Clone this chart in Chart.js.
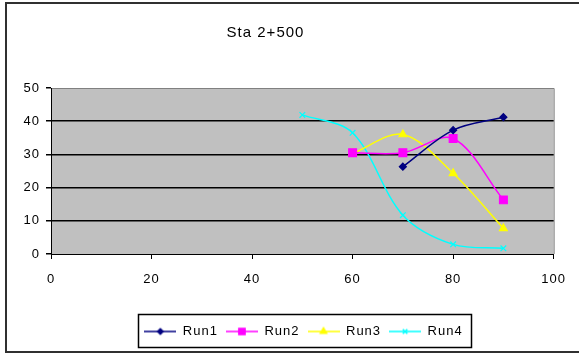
<!DOCTYPE html>
<html>
<head>
<meta charset="utf-8">
<script src="https://cdn.jsdelivr.net/npm/chart.js@4.4.1/dist/chart.umd.min.js"></script>
<style>
  html, body { margin: 0; padding: 0; background: #fff; }
  #wrap { width: 579px; height: 354px; position: relative; }
</style>
</head>
<body>
<div id="wrap"><canvas id="c" width="579" height="354"></canvas></div>
<script>
// Series data (x = position, y = value)
const seriesNames = ['Run1', 'Run2', 'Run3', 'Run4'];
const run1X = [70, 80, 90];
const run1Y = [26.3, 37.3, 41.2];
const run2X = [60, 70, 80, 90];
const run2Y = [30.5, 30.5, 34.8, 16.3];
const run3X = [60, 70, 80, 90];
const run3Y = [30.3, 36.0, 24.3, 7.7];
const run4X = [50, 60, 70, 80, 90];
const run4Y = [41.9, 36.5, 11.7, 2.9, 1.7];
const xTicks = [0, 20, 40, 60, 80, 100];
const yTicks = [0, 10, 20, 30, 40, 50];
const chartTitle = 'Sta 2+500';

const FONT = '"Liberation Sans", Arial, sans-serif';
const LETTER_SPACING = '1px';

const styles = [
  { color: '#000080', marker: 'rectRot', radius: 3.5 },
  { color: '#ff00ff', marker: 'rect', radius: 5.5 },
  { color: '#ffff00', marker: 'triangle', radius: 4.5 },
  { color: '#00ffff', marker: 'crossRot', radius: 4 }
];

function toPoints(xs, ys) { return xs.map((x, i) => ({ x: x, y: ys[i] })); }
const seriesPoints = [toPoints(run1X, run1Y), toPoints(run2X, run2Y), toPoints(run3X, run3Y), toPoints(run4X, run4Y)];

// Legend swatch: a short line with the series marker in its middle
function legendSwatch(st) {
  const w = 32, h = 12;
  const cv = document.createElement('canvas');
  cv.width = w; cv.height = h;
  const g = cv.getContext('2d');
  g.strokeStyle = st.color; g.lineWidth = 1.5;
  g.beginPath(); g.moveTo(0, h / 2); g.lineTo(w, h / 2); g.stroke();
  g.fillStyle = st.color;
  Chart.helpers.drawPoint(g, { pointStyle: st.marker, radius: st.radius * 0.8, borderWidth: 1 }, w / 2, h / 2);
  return cv;
}

const datasets = seriesNames.map((name, i) => ({
  label: name,
  data: seriesPoints[i],
  showLine: true,
  borderColor: styles[i].color,
  backgroundColor: styles[i].color,
  borderWidth: 1.5,
  tension: 0.33,
  pointStyle: styles[i].marker,
  pointRadius: styles[i].radius,
  pointBorderColor: styles[i].color,
  pointBackgroundColor: styles[i].color,
  pointBorderWidth: 1.2
}));

const frame = {
  id: 'frame',
  beforeUpdate(chart) { chart.ctx.letterSpacing = LETTER_SPACING; },
  afterUpdate(chart) {
    // nudge the title and the legend row horizontally
    if (chart.titleBlock) { chart.titleBlock.left -= 13; chart.titleBlock.right -= 13; }
    const lg = chart.legend;
    if (lg) {
      lg.left += 25; lg.right += 25;
      (lg.legendHitBoxes || []).forEach(b => { b.left += 25; });
    }
  },
  beforeDraw(chart) {
    const { ctx, chartArea: a } = chart;
    ctx.letterSpacing = LETTER_SPACING;
    ctx.save();
    ctx.fillStyle = '#ffffff';
    ctx.fillRect(0, 0, chart.width, chart.height);
    // outer border of the chart object
    ctx.strokeStyle = '#303030';
    ctx.lineWidth = 2;
    ctx.strokeRect(6, 3, chart.width + 20, 349);
    // plot area
    ctx.fillStyle = '#c0c0c0';
    ctx.fillRect(a.left, a.top, a.right - a.left, a.bottom - a.top);
    ctx.strokeStyle = '#808080';
    ctx.lineWidth = 1;
    ctx.beginPath();
    ctx.moveTo(a.left, a.top + 0.5);
    ctx.lineTo(a.right + 0.5, a.top + 0.5);
    ctx.lineTo(a.right + 0.5, a.bottom);
    ctx.stroke();
    ctx.restore();
  },
  afterDraw(chart) {
    const lg = chart.legend;
    if (!lg || !lg.legendHitBoxes || !lg.legendHitBoxes.length) return;
    const hb = lg.legendHitBoxes;
    const l = Math.min(...hb.map(b => b.left)) - 6;
    const r = Math.max(...hb.map(b => b.left + b.width)) + 9;
    const t = 314;
    const btm = 347;
    const ctx = chart.ctx;
    ctx.save();
    ctx.strokeStyle = '#000';
    ctx.lineWidth = 1.5;
    ctx.strokeRect(Math.round(l) + 0.5, t + 0.5, Math.round(r - l), btm - t);
    ctx.restore();
  }
};

new Chart(document.getElementById('c'), {
  type: 'scatter',
  data: { datasets: datasets },
  options: {
    responsive: false,
    animation: false,
    layout: { padding: { left: 0, right: 22, top: 0, bottom: 6 } },
    plugins: {
      title: {
        display: true,
        text: chartTitle,
        color: '#000',
        font: { family: FONT, size: 15, weight: 'normal' },
        padding: { top: 24, bottom: 46 }
      },
      legend: {
        display: true,
        position: 'bottom',
        labels: {
          color: '#000',
          font: { family: FONT, size: 13 },
          usePointStyle: true,
          pointStyleWidth: 32,
          padding: 8,
          generateLabels(chart) {
            return chart.data.datasets.map((ds, i) => ({
              text: ds.label,
              pointStyle: legendSwatch(styles[i]),
              fillStyle: ds.borderColor,
              strokeStyle: ds.borderColor,
              lineWidth: 0,
              datasetIndex: i,
              hidden: false,
              fontColor: '#000'
            }));
          }
        }
      },
      tooltip: { enabled: false }
    },
    scales: {
      x: {
        type: 'linear',
        min: xTicks[0],
        max: xTicks[xTicks.length - 1],
        afterBuildTicks(s) { s.ticks = xTicks.map(v => ({ value: v })); },
        afterFit(s) { s.height = 63; },
        ticks: { color: '#000', font: { family: FONT, size: 13 }, padding: 13, maxRotation: 0 },
        grid: { drawOnChartArea: false, drawTicks: true, tickLength: 5, tickColor: '#000', color: '#000' },
        border: { color: '#000', width: 1 }
      },
      y: {
        type: 'linear',
        min: yTicks[0],
        max: yTicks[yTicks.length - 1],
        afterBuildTicks(s) { s.ticks = yTicks.map(v => ({ value: v })); },
        afterFit(s) { s.width = 51; },
        ticks: { color: '#000', font: { family: FONT, size: 13 }, padding: 6 },
        grid: {
          color: c => (c.tick && (c.tick.value === 0 || c.tick.value === 50)) ? 'rgba(0,0,0,0)' : '#000',
          lineWidth: 1.5,
          drawTicks: true,
          tickLength: 5,
          tickColor: '#000'
        },
        border: { color: '#000', width: 1 }
      }
    }
  },
  plugins: [frame]
});
</script>
</body>
</html>
